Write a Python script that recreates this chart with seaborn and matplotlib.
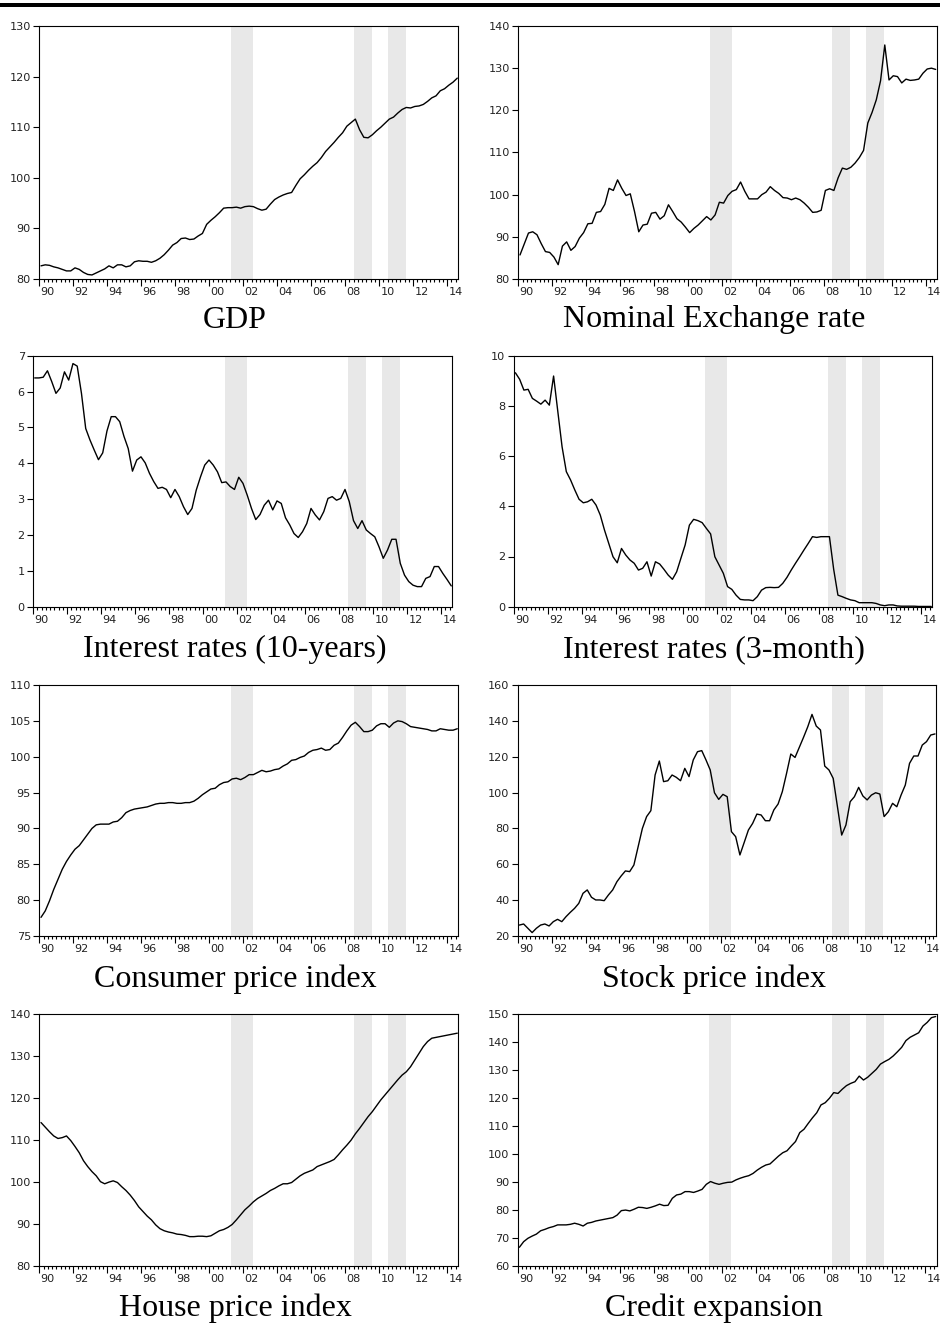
import matplotlib
matplotlib.use("Agg")
import matplotlib.pyplot as plt
from matplotlib.patches import Rectangle
import numpy as np
import pandas as pd
import seaborn as sns

# Quarterly observations, 1990Q1 - 2014Q3
FIRST_YEAR = 1990
YEAR_TICKS = list(range(1990, 2015, 2))
YEAR_LABELS = [f"{y % 100:02d}" for y in YEAR_TICKS]

# Shaded crisis / recession periods (decimal years)
SHADED_PERIODS = [(2001.28, 2002.57), (2008.50, 2009.56), (2010.50, 2011.56)]

gdp = [
    82.6, 82.8, 82.7, 82.4, 82.2, 81.9, 81.6, 81.6, 82.2, 81.9,
    81.3, 80.9, 80.8, 81.2, 81.6, 82.0, 82.6, 82.2, 82.8, 82.8,
    82.4, 82.6, 83.4, 83.6, 83.5, 83.5, 83.3, 83.6, 84.1, 84.8,
    85.7, 86.7, 87.2, 88.0, 88.1, 87.8, 87.9, 88.5, 89.0, 90.8,
    91.6, 92.3, 93.1, 94.0, 94.1, 94.1, 94.2, 94.0, 94.3, 94.4,
    94.3, 93.9, 93.6, 93.8, 94.8, 95.7, 96.2, 96.6, 96.9, 97.1,
    98.5, 99.8, 100.6, 101.5, 102.3, 103.0, 104.0, 105.2, 106.1, 107.0,
    108.0, 108.9, 110.2, 110.9, 111.6, 109.5, 108.0, 107.9, 108.5, 109.3,
    110.0, 110.8, 111.6, 112.0, 112.8, 113.5, 113.9, 113.8, 114.1, 114.2,
    114.5, 115.1, 115.8, 116.2, 117.2, 117.6, 118.3, 118.9, 119.7,
]

exchange_rate = [
    85.7, 88.3, 90.9, 91.2, 90.5, 88.4, 86.5, 86.3, 85.2, 83.4,
    87.8, 88.8, 86.8, 87.7, 89.7, 91.0, 93.1, 93.2, 95.8, 96.0,
    97.7, 101.5, 101.0, 103.5, 101.5, 99.8, 100.2, 96.0, 91.2, 92.8,
    93.0, 95.6, 95.8, 94.2, 95.0, 97.6, 96.0, 94.3, 93.5, 92.3,
    91.0, 92.0, 92.8, 93.8, 94.8, 94.0, 95.2, 98.2, 98.0, 99.8,
    100.8, 101.2, 103.0, 100.8, 99.0, 99.0, 99.0, 100.0, 100.6, 101.9,
    101.0, 100.3, 99.3, 99.2, 98.8, 99.2, 98.8, 98.0, 97.0, 95.8,
    95.9, 96.3, 101.0, 101.4, 101.0, 104.0, 106.3, 106.0, 106.5, 107.5,
    108.8, 110.5, 117.0, 119.5, 122.5, 127.0, 135.5, 127.2, 128.2, 128.0,
    126.5, 127.4, 127.1, 127.2, 127.4, 128.8, 129.8, 130.0, 129.7,
]

rate_10y = [
    6.38, 6.38, 6.40, 6.58, 6.28, 5.95, 6.10, 6.55, 6.32, 6.78,
    6.71, 5.95, 4.97, 4.65, 4.37, 4.10, 4.29, 4.90, 5.30, 5.30,
    5.16, 4.75, 4.41, 3.78, 4.09, 4.18, 4.01, 3.72, 3.49, 3.30,
    3.33, 3.27, 3.04, 3.27, 3.07, 2.79, 2.57, 2.74, 3.25, 3.62,
    3.95, 4.09, 3.95, 3.76, 3.46, 3.48, 3.35, 3.27, 3.61, 3.44,
    3.11, 2.74, 2.43, 2.57, 2.83, 2.97, 2.70, 2.95, 2.88, 2.48,
    2.28, 2.04, 1.93, 2.09, 2.32, 2.74, 2.56, 2.42, 2.65, 3.02,
    3.07, 2.97, 3.02, 3.27, 2.93, 2.40, 2.18, 2.40, 2.14, 2.04,
    1.95, 1.67, 1.35, 1.58, 1.88, 1.88, 1.21, 0.88, 0.70, 0.60,
    0.56, 0.56, 0.79, 0.84, 1.12, 1.12, 0.93, 0.76, 0.58,
]

rate_3m = [
    9.32, 9.06, 8.63, 8.66, 8.30, 8.19, 8.07, 8.23, 8.03, 9.19,
    7.77, 6.37, 5.38, 5.05, 4.65, 4.28, 4.14, 4.18, 4.28, 4.05,
    3.65, 3.05, 2.52, 1.99, 1.75, 2.32, 2.06, 1.86, 1.73, 1.46,
    1.53, 1.79, 1.22, 1.79, 1.70, 1.49, 1.26, 1.09, 1.39, 1.93,
    2.46, 3.25, 3.48, 3.43, 3.35, 3.12, 2.90, 1.99, 1.66, 1.33,
    0.80, 0.69, 0.46, 0.29, 0.27, 0.27, 0.24, 0.40, 0.66, 0.76,
    0.77, 0.76, 0.77, 0.93, 1.17, 1.46, 1.73, 1.99, 2.26, 2.52,
    2.79, 2.76, 2.79, 2.79, 2.79, 1.49, 0.46, 0.40, 0.33, 0.27,
    0.24, 0.16, 0.16, 0.16, 0.16, 0.13, 0.07, 0.04, 0.07, 0.07,
    0.03, 0.02, 0.02, 0.02, 0.02, 0.01, 0.01, 0.01, 0.01,
]

cpi = [
    77.6, 78.5, 79.9, 81.5, 82.9, 84.3, 85.4, 86.3, 87.1, 87.6,
    88.4, 89.2, 90.0, 90.5, 90.6, 90.6, 90.6, 90.9, 91.0, 91.5,
    92.2, 92.5, 92.7, 92.8, 92.9, 93.0, 93.2, 93.4, 93.5, 93.5,
    93.6, 93.6, 93.5, 93.5, 93.6, 93.6, 93.8, 94.2, 94.7, 95.1,
    95.5, 95.6, 96.1, 96.4, 96.5, 96.9, 97.0, 96.8, 97.1, 97.5,
    97.5, 97.8, 98.1, 97.9, 98.0, 98.2, 98.3, 98.7, 99.0, 99.5,
    99.6, 99.9, 100.1, 100.6, 100.9, 101.0, 101.2, 100.9, 101.0, 101.6,
    101.9, 102.7, 103.6, 104.4, 104.8, 104.2, 103.5, 103.5, 103.7, 104.3,
    104.6, 104.6, 104.1, 104.7, 105.0, 104.9, 104.6, 104.2, 104.1, 104.0,
    103.9, 103.8, 103.6, 103.6, 103.9, 103.8, 103.7, 103.7, 103.9,
]

stock_prices = [
    26.1, 26.7, 24.3, 21.9, 24.3, 26.1, 26.7, 25.6, 28.0, 29.3,
    28.0, 30.8, 33.2, 35.4, 38.2, 43.8, 45.7, 41.6, 40.1, 40.1,
    39.7, 42.9, 45.7, 50.3, 53.5, 56.3, 55.9, 59.6, 69.8, 80.0,
    86.6, 89.9, 109.8, 117.6, 106.1, 106.6, 109.8, 108.5, 106.6, 113.5,
    108.9, 118.2, 122.8, 123.4, 118.2, 112.6, 99.9, 96.2, 99.0, 97.7,
    78.2, 75.4, 65.2, 72.1, 79.1, 82.8, 88.0, 87.5, 84.3, 84.3,
    90.3, 93.6, 100.5, 110.7, 121.5, 119.6, 125.2, 130.8, 136.7, 143.6,
    137.1, 134.9, 114.8, 112.6, 107.9, 92.1, 76.3, 81.9, 94.9, 97.7,
    102.9, 98.1, 95.9, 98.6, 99.9, 99.2, 86.6, 89.3, 94.0, 92.1,
    98.6, 104.2, 116.3, 120.4, 120.4, 126.5, 128.4, 132.1, 132.7,
]

house_prices = [
    114.2, 113.1, 112.0, 111.0, 110.4, 110.6, 111.0, 109.9, 108.5, 107.0,
    105.1, 103.7, 102.5, 101.5, 100.1, 99.6, 100.0, 100.3, 99.9, 98.9,
    98.0, 96.9, 95.6, 94.1, 93.0, 91.9, 91.0, 89.8, 88.9, 88.4,
    88.1, 87.9, 87.6, 87.5, 87.3, 87.0, 87.0, 87.1, 87.1, 87.0,
    87.2, 87.8, 88.4, 88.7, 89.2, 89.9, 91.0, 92.2, 93.4, 94.3,
    95.3, 96.1, 96.7, 97.3, 98.0, 98.5, 99.1, 99.6, 99.6, 99.9,
    100.7, 101.5, 102.1, 102.5, 102.9, 103.7, 104.1, 104.5, 104.9, 105.4,
    106.5, 107.7, 108.8, 110.0, 111.5, 112.8, 114.2, 115.6, 116.8, 118.2,
    119.6, 120.8, 122.0, 123.2, 124.4, 125.5, 126.3, 127.5, 129.1, 130.7,
    132.3, 133.5, 134.3, 134.5, 134.7, 134.9, 135.1, 135.3, 135.5,
]

credit = [
    66.7, 68.7, 69.9, 70.7, 71.4, 72.6, 73.1, 73.7, 74.1, 74.7,
    74.7, 74.7, 74.9, 75.3, 74.9, 74.3, 75.3, 75.6, 76.1, 76.4,
    76.7, 77.0, 77.3, 78.2, 79.8, 80.0, 79.7, 80.3, 81.0, 80.9,
    80.6, 81.0, 81.5, 82.1, 81.6, 81.7, 84.2, 85.4, 85.7, 86.6,
    86.6, 86.3, 86.8, 87.4, 89.2, 90.2, 89.6, 89.2, 89.6, 89.9,
    90.0, 90.8, 91.4, 91.9, 92.3, 93.1, 94.3, 95.3, 96.1, 96.5,
    97.9, 99.3, 100.5, 101.2, 102.9, 104.5, 107.7, 108.9, 111.0, 113.0,
    114.8, 117.6, 118.4, 120.0, 122.0, 121.7, 123.2, 124.5, 125.3, 125.9,
    127.9, 126.5, 127.5, 128.9, 130.3, 132.2, 133.1, 133.9, 135.1, 136.6,
    138.2, 140.6, 141.8, 142.6, 143.4, 145.8, 147.1, 148.8, 149.2,
]

# Quarter positions on the decimal-year axis
n_obs = len(gdp)
quarter_pos = FIRST_YEAR + 0.1 + np.arange(n_obs) / 4.0

# (title, series, y-limits, y-ticks, axes box in pixels l, t, r, b, title x, title baseline)
panels = [
    ("GDP", gdp, (80, 130), range(80, 131, 10), (39.3, 26, 458.3, 279), 235, 327.5),
    ("Nominal Exchange rate", exchange_rate, (80, 140), range(80, 141, 10),
     (518.3, 26, 936.7, 279), 714, 327.5),
    ("Interest rates (10-years)", rate_10y, (0, 7), range(0, 8), (33, 355.7, 452.3, 606.7), 235, 657),
    ("Interest rates (3-month)", rate_3m, (0, 10), range(0, 11, 2),
     (513.7, 355.7, 932.3, 606.7), 714, 657),
    ("Consumer price index", cpi, (75, 110), range(75, 111, 5), (39.3, 685, 458.3, 936), 235, 986.5),
    ("Stock price index", stock_prices, (20, 160), range(20, 161, 20),
     (517.7, 685, 936, 936), 714, 986.5),
    ("House price index", house_prices, (80, 140), range(80, 141, 10),
     (39.3, 1014.3, 458.3, 1266), 235, 1316),
    ("Credit expansion", credit, (60, 150), range(60, 151, 10),
     (517.7, 1014.3, 936.7, 1266), 714, 1316),
]

W, H = 940, 1323
sns.set_theme(style="ticks")
plt.rcParams["font.family"] = ["DejaVu Sans"]
plt.rcParams["axes.linewidth"] = 0.8

fig = plt.figure(figsize=(W / 100, H / 100), dpi=100)
fig.patch.set_facecolor("white")

# heavy rule across the top of the page
fig.add_artist(Rectangle((0, 1 - 6.8 / H), 1, 3.6 / H, transform=fig.transFigure,
                         facecolor="black", edgecolor="none"))

for title, values, ylim, yticks, (l, t, r, b), tx, tbase in panels:
    ax = fig.add_axes([l / W, 1 - b / H, (r - l) / W, (b - t) / H])
    ax.set_facecolor("white")
    for s, e in SHADED_PERIODS:
        ax.axvspan(s, e, color="#e8e8e8", lw=0, zorder=0)
    df = pd.DataFrame({"t": quarter_pos, "v": values})
    sns.lineplot(data=df, x="t", y="v", ax=ax, color="black", linewidth=1.0, zorder=3)
    ax.set_xlim(1990, 2014.66)
    ax.set_ylim(*ylim)
    ax.set_yticks(list(yticks))
    ax.set_xticks(YEAR_TICKS)
    ax.set_xticklabels([])
    ax.set_xticks(np.arange(1990, 2014.7, 0.25), minor=True)
    ax.tick_params(axis="x", which="major", length=5, width=0.8, direction="out", color="black")
    ax.tick_params(axis="x", which="minor", length=2.5, width=0.8, direction="out", color="black")
    ax.tick_params(axis="y", which="major", length=4, width=0.8, pad=2,
                   labelsize=8.1, labelcolor="#222222", color="black")
    ax.set_xlabel("")
    ax.set_ylabel("")
    for sp in ax.spines.values():
        sp.set_visible(True)
        sp.set_color("black")
        sp.set_linewidth(0.8)

    # year labels centred in the middle of each labelled year
    sec = ax.secondary_xaxis("bottom")
    sec.set_xticks([y + 0.5 for y in YEAR_TICKS], labels=YEAR_LABELS)
    sec.tick_params(length=0, pad=6, labelsize=8.1, labelcolor="#222222")
    sec.spines["bottom"].set_visible(False)

    fig.text(tx / W, 1 - tbase / H, title, ha="center", va="baseline",
             family=["Liberation Serif", "DejaVu Serif"], fontsize=23, color="black")

fig.savefig("out.png", dpi=100, facecolor="white")
